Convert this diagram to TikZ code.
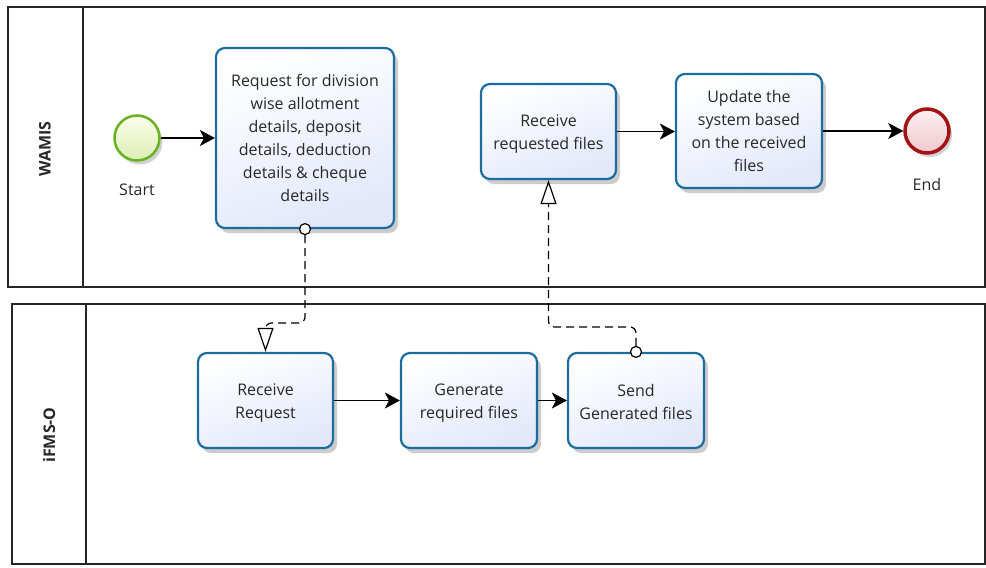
\documentclass[tikz,border=0pt]{standalone}
\usepackage{fontspec}
\setmainfont{Open Sans}
\usetikzlibrary{arrows.meta,shadows}
\definecolor{taskblue}{RGB}{28,108,158}
\definecolor{taskfill}{RGB}{226,232,250}
\definecolor{txt}{RGB}{40,40,40}
\definecolor{startgreen}{RGB}{106,176,35}
\definecolor{endred}{RGB}{165,20,20}
\begin{document}
\begin{tikzpicture}[x=1pt,y=-1pt,
  pool/.style={draw=black!85,line width=1.2pt},
  lanelabel/.style={rotate=90,font=\bfseries\fontsize{16}{18}\selectfont,text=txt},
  task/.style={draw=taskblue,line width=2.2pt,rounded corners=9pt,top color=white,bottom color=taskfill,shading angle=20,
     drop shadow={shadow xshift=4pt,shadow yshift=-5pt,opacity=0.2,fill=black},
     align=center,text=txt,font=\fontsize{16}{23}\selectfont,inner sep=2pt},
  startev/.style={circle,draw=startgreen,line width=2.5pt,minimum size=45pt,inner sep=0pt,
     top color={rgb,255:red,252;green,253;blue,235},bottom color={rgb,255:red,220;green,238;blue,180},
     drop shadow={shadow xshift=3pt,shadow yshift=-4pt,opacity=0.18,fill=black}},
  endev/.style={circle,draw=endred,line width=3.5pt,minimum size=44pt,inner sep=0pt,
     top color={rgb,255:red,253;green,240;blue,242},bottom color={rgb,255:red,240;green,200;blue,205},
     drop shadow={shadow xshift=3pt,shadow yshift=-4pt,opacity=0.18,fill=black}},
  evlabel/.style={text=txt,font=\fontsize{16}{19}\selectfont},
  seqflow/.style={draw=black,line width=1.5pt,-{Stealth[length=15pt,width=16pt,inset=4pt]}},
  msgflow/.style={draw=black,line width=1.2pt,dash pattern=on 8pt off 5pt,rounded corners=6pt,
     -{Triangle[open,length=24pt,width=16pt,line width=1.2pt]}},
  msgcirc/.style={circle,draw=black,line width=1.2pt,fill=white,minimum size=11pt,inner sep=0pt}
]
\useasboundingbox (0,0) rectangle (986,568);
% pools
\draw[pool] (8,7) rectangle (985,287);
\draw[pool] (83,7) -- (83,287);
\node[lanelabel] (wamis) at (45,149) {WAMIS};
\draw[pool] (12,304) rectangle (985,564);
\draw[pool] (86,304) -- (86,564);
\node[lanelabel] (ifms) at (49,435) {iFMS-O};
% WAMIS lane
\node[startev] (start) at (137,138) {};
\node[evlabel] (startlbl) at (137,190) {Start};
\node[task,minimum width=178pt,minimum height=180pt] (req) at (305,138)
  {Request for division\\wise allotment\\details, deposit\\details, deduction\\details \& cheque\\details};
\node[task,minimum width=135pt,minimum height=95pt] (rcv) at (548.5,131.5)
  {\strut Receive\\requested files};
\node[task,minimum width=146pt,minimum height=114pt] (upd) at (749,131)
  {Update the\\system based\\on the received\\files};
\node[endev] (end) at (927,131) {};
\node[evlabel] (endlbl) at (927,184) {End};
% iFMS-O lane
\node[task,minimum width=135pt,minimum height=95pt] (rr) at (265.5,400.5) {\strut Receive\\Request};
\node[task,minimum width=136pt,minimum height=95pt] (gen) at (469,400.5) {\strut Generate\\required files};
\node[task,minimum width=136pt,minimum height=95pt] (send) at (636,400.5) {\strut Send\\Generated files};
% sequence flows
\draw[seqflow] (start) -- (req.west |- start);
\draw[seqflow] (rcv) -- (upd.west |- rcv);
\draw[seqflow] (upd.east |- end) -- (end);
\draw[seqflow] (rr) -- (gen);
\draw[seqflow] (gen) -- (send);
% message flows
\node[msgcirc] (c1) at (req.south) {};
\coordinate (m1) at (265.5,323);
\draw[msgflow] (c1.south) |- (m1) -- (rr.north);
\node[msgcirc] (c2) at (send.north) {};
\coordinate (m2) at (548.5,327);
\draw[msgflow] (c2.north) |- (m2) -- (rcv.south);
\end{tikzpicture}
\end{document}
